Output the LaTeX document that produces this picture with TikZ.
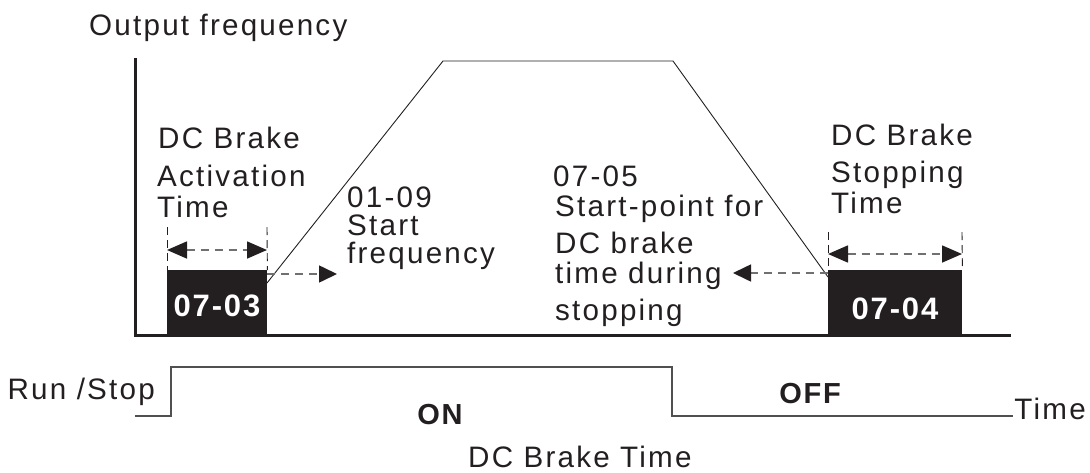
\documentclass[tikz,border=0pt]{standalone}
\usepackage{fontspec}
\setmainfont{Liberation Sans}[LetterSpace=6]
\newfontfamily\widefont{Liberation Sans}[LetterSpace=7.5]
\usetikzlibrary{arrows.meta}
\definecolor{ink}{HTML}{231F20}
\definecolor{dashgray}{HTML}{707070}
\definecolor{siggray}{HTML}{505050}
\begin{document}
\begin{tikzpicture}[x=1pt,y=-1pt,
  lbl/.style={font=\widefont\fontsize{29.6}{33}\selectfont, inner sep=0pt, anchor=base west, text=ink},
  boldlbl/.style={font=\fontsize{29}{32}\selectfont\bfseries, inner sep=0pt, anchor=base, text=ink},
  boxnum/.style={font=\fontsize{31}{34}\selectfont\bfseries, inner sep=0pt, anchor=base, text=white},
  blackbox/.style={fill=ink, draw=none, inner sep=0pt, anchor=north west},
  axisline/.style={draw=ink, line width=3pt},
  ramp/.style={draw=ink, line width=0.9pt},
  hintarrow/.style={draw=dashgray, line width=1.6pt, dash pattern=on 8pt off 6pt, -{Triangle[length=18pt,width=17pt,fill=ink,color=ink]}},
  dimarrow/.style={draw=dashgray, line width=1.6pt, dash pattern=on 8pt off 6pt, {Triangle[length=20pt,width=17pt,fill=ink,color=ink]}-{Triangle[length=20pt,width=17pt,fill=ink,color=ink]}},
  tick/.style={draw=ink, line width=0.9pt, dash pattern=on 8pt off 5pt},
  signal/.style={draw=siggray, line width=1.5pt}]
\useasboundingbox (0,0) rectangle (1090,472);

% black parameter boxes
\node[blackbox, minimum width=100pt, minimum height=65pt] (b1) at (167,270) {};
\node[blackbox, minimum width=134pt, minimum height=65pt] (b2) at (828,270) {};
\node[boxnum] (n1) at (217,316) {07-03};
\node[boxnum] (n2) at (895,319) {07-04};

% axes
\coordinate (ytop) at (135,58);
\coordinate (orig) at (135,335);
\coordinate (xend) at (1011,335);
\draw[axisline] (ytop) -- (orig) -- (xend);

% output frequency trapezoid
\coordinate (r0) at (267,283);
\coordinate (t1) at (443,61);
\coordinate (t2) at (673,61);
\coordinate (r3) at (828,277);
\draw[ramp] (r0) -- (t1) -- (t2) -- (r3);

% hint arrows
\coordinate (h1s) at (267,274);
\coordinate (h1e) at (337,274);
\draw[hintarrow] (h1s) -- (h1e);
\coordinate (h2s) at (828,273);
\coordinate (h2e) at (733,273);
\draw[hintarrow] (h2s) -- (h2e);

% dimension marks
\coordinate (d1a) at (167,227);
\coordinate (d1b) at (267,227);
\draw[tick] (d1a) -- (b1.north west);
\draw[tick] (d1b) -- (b1.north east);
\coordinate (d1l) at (167,250);
\coordinate (d1r) at (267,250);
\draw[dimarrow] (d1l) -- (d1r);
\coordinate (d2a) at (828,232);
\coordinate (d2b) at (962,232);
\draw[tick] (d2a) -- (b2.north west);
\draw[tick] (d2b) -- (b2.north east);
\coordinate (d2l) at (828,254);
\coordinate (d2r) at (962,254);
\draw[dimarrow] (d2l) -- (d2r);

% run/stop signal
\coordinate (s0) at (135,416);
\coordinate (s1) at (171,416);
\coordinate (s2) at (171,367);
\coordinate (s3) at (672,367);
\coordinate (s4) at (672,416);
\coordinate (s5) at (1013,416);
\draw[signal] (s0) -- (s1) -- (s2) -- (s3) -- (s4) -- (s5);

% labels
\node[lbl] (yl) at (89,35) {Output frequency};
\node[lbl] (a1) at (158,148) {DC Brake};
\node[lbl] (a2) at (157,186) {Activation};
\node[lbl] (a3) at (157,217) {Time};
\node[lbl] (f1) at (347,207) {01-09};
\node[lbl] (f2) at (347,235) {Start};
\node[lbl] (f3) at (347,263) {frequency};
\node[lbl] (p1) at (553,186) {07-05};
\node[lbl] (p2) at (555,216) {Start-point for};
\node[lbl] (p3) at (555,253) {DC brake};
\node[lbl] (p4) at (555,283) {time during};
\node[lbl] (p5) at (555,320) {stopping};
\node[lbl] (s1l) at (831,145) {DC Brake};
\node[lbl] (s2l) at (831,182) {Stopping};
\node[lbl] (s3l) at (831,213) {Time};
\node[lbl, anchor=base east] (rs) at (155,399) {Run /Stop};
\node[boldlbl] (on) at (440,424) {ON};
\node[boldlbl] (off) at (810,403) {OFF};
\node[lbl, anchor=base east] (tm) at (1086,419) {Time};
\node[lbl] (dct) at (468,467) {DC Brake Time};
\end{tikzpicture}
\end{document}
